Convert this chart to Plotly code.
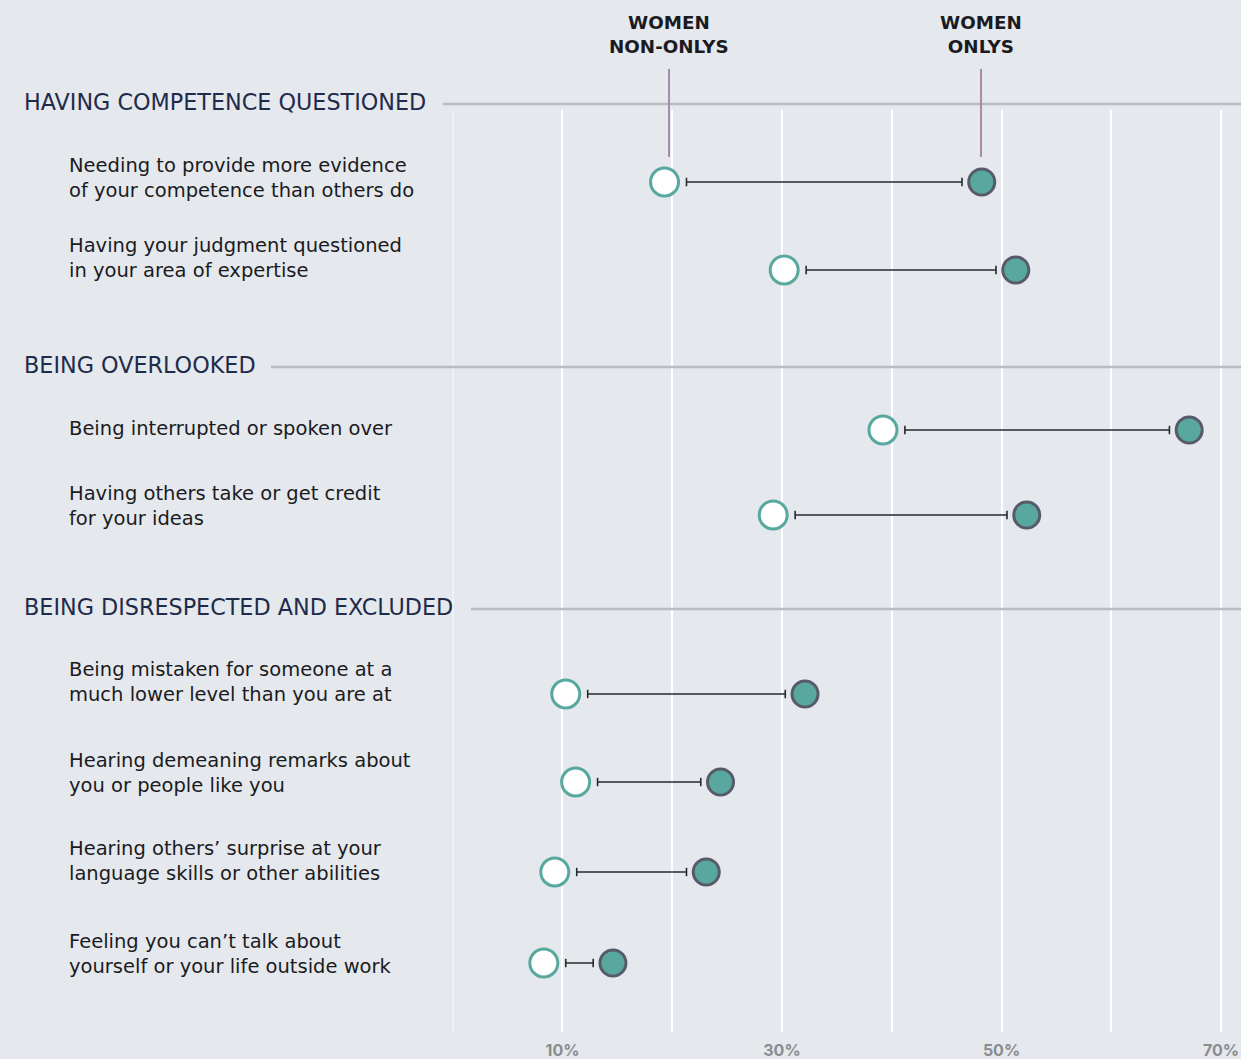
import plotly.graph_objects as go

# --- data -------------------------------------------------------------
sections = ["HAVING COMPETENCE QUESTIONED", "BEING OVERLOOKED", "BEING DISRESPECTED AND EXCLUDED"]
items = [
    "Needing to provide more evidence<br>of your competence than others do",
    "Having your judgment questioned<br>in your area of expertise",
    "Being interrupted or spoken over",
    "Having others take or get credit<br>for your ideas",
    "Being mistaken for someone at a<br>much lower level than you are at",
    "Hearing demeaning remarks about<br>you or people like you",
    "Hearing others’ surprise at your<br>language skills or other abilities",
    "Feeling you can’t talk about<br>yourself or your life outside work",
]
women_non_onlys = [19.3, 30.2, 39.2, 29.2, 10.3, 11.2, 9.3, 8.3]
women_onlys = [48.2, 51.3, 67.1, 52.3, 32.1, 24.4, 23.1, 14.6]
tick_vals = [0, 10, 20, 30, 40, 50, 60, 70]
tick_text = ["", "10%", "", "30%", "", "50%", "", "70%"]

# --- layout geometry (figure pixels) ----------------------------------
W, H = 1241, 1059
row_y = [182, 270, 430, 515, 694, 782, 872, 963]
label_y = [178, 258, 429, 506, 682, 773, 861, 954]
section_y = [102, 365, 607]
section_rule_x0 = [443, 271, 471]
grid_top, grid_bottom = 110, 1032
x0_px, px_per_pct = 452.7, 10.976

BG = "#e5e9ed"
TEAL = "#58a8a0"
DARK = "#575a68"
NAVY = "#1f2b4b"
FONT = "'DejaVu Sans', Inter, sans-serif"
TICK_FONT = "Inter, sans-serif"

def py(p):
    return 1 - p / H

fig = go.Figure()

# connector between the two groups, with small end caps
gap_left, gap_right = 2.0, 1.8
for yv, a, b in zip(row_y, women_non_onlys, women_onlys):
    fig.add_trace(go.Scatter(
        x=[a + gap_left, b - gap_right], y=[yv, yv], mode="lines+markers",
        line=dict(color="#26292e", width=1.5),
        marker=dict(symbol="line-ns", size=6, line=dict(color="#26292e", width=1.6)),
        hoverinfo="skip", showlegend=False,
    ))

fig.add_trace(go.Scatter(
    x=women_non_onlys, y=row_y, mode="markers", name="Women non-onlys",
    marker=dict(size=28, color="white", line=dict(color=TEAL, width=3)),
    showlegend=False, cliponaxis=False,
))
fig.add_trace(go.Scatter(
    x=women_onlys, y=row_y, mode="markers", name="Women onlys",
    marker=dict(size=26, color=TEAL, line=dict(color=DARK, width=3)),
    showlegend=False, cliponaxis=False,
))

annotations = []
shapes = []

# white guide at 0%
shapes.append(dict(
    type="line", xref="x", yref="y", x0=0, x1=0, y0=grid_bottom, y1=grid_top,
    line=dict(color="white", width=1.5), layer="below",
))

for name, yv, rx in zip(sections, section_y, section_rule_x0):
    annotations.append(dict(
        text=name, x=22 / W, y=py(yv), xref="paper", yref="paper",
        xanchor="left", yanchor="middle", showarrow=False,
        font=dict(family=FONT, size=22.3, color=NAVY),
    ))
    shapes.append(dict(
        type="line", xref="paper", yref="paper",
        x0=rx / W, x1=1, y0=py(yv + 2), y1=py(yv + 2),
        line=dict(color="#b9bcc3", width=2.5), layer="above",
    ))

for text, yv in zip(items, label_y):
    annotations.append(dict(
        text=text, x=67 / W, y=py(yv), xref="paper", yref="paper",
        xanchor="left", yanchor="middle", align="left", showarrow=False,
        font=dict(family=FONT, size=19.5, color="#1b1b1f"),
    ))

# series keys with pointer lines
for text, xp in [("WOMEN<br>NON-ONLYS", 669), ("WOMEN<br>ONLYS", 981)]:
    annotations.append(dict(
        text="<b>" + text + "</b>", x=xp / W, y=py(35), xref="paper", yref="paper",
        xanchor="center", yanchor="middle", showarrow=False,
        font=dict(family=FONT, size=18.3, color="#1b1b1f"),
    ))
    shapes.append(dict(
        type="line", xref="paper", yref="paper", x0=xp / W, x1=xp / W,
        y0=py(69), y1=py(157), line=dict(color="#a98aa9", width=2), layer="above",
    ))

fig.update_layout(
    width=W, height=H,
    margin=dict(l=0, r=0, t=0, b=0),
    paper_bgcolor=BG, plot_bgcolor=BG,
    annotations=annotations, shapes=shapes,
    xaxis=dict(
        domain=[x0_px / W, 1], range=[0, (W - x0_px) / px_per_pct],
        tickvals=tick_vals, ticktext=tick_text,
        showgrid=True, gridcolor="white", gridwidth=1.5,
        zeroline=False, showline=False,
        ticks="outside", ticklen=4, tickcolor="rgba(0,0,0,0)",
        tickfont=dict(family=TICK_FONT, size=16, color="#8a8c90", weight="bold"),
        fixedrange=True,
    ),
    yaxis=dict(
        domain=[1 - grid_bottom / H, 1 - grid_top / H],
        range=[grid_bottom, grid_top],
        showgrid=False, zeroline=False, showticklabels=False, showline=False,
        fixedrange=True,
    ),
)

fig.write_html("out.html")
